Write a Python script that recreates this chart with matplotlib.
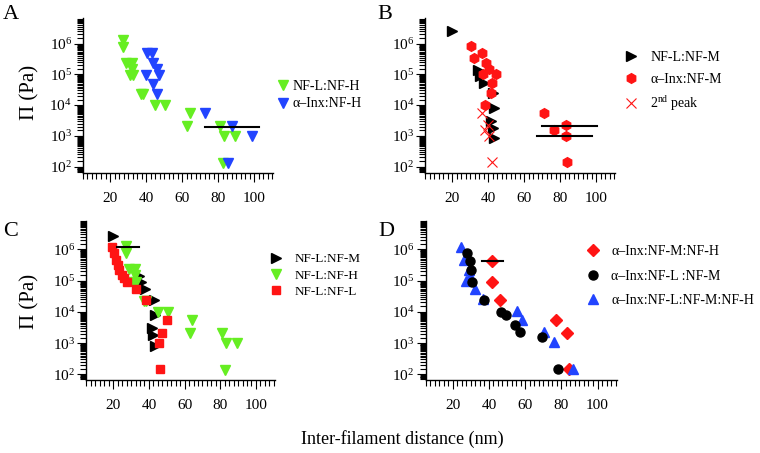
import numpy as np
import matplotlib
matplotlib.use('Agg')
import matplotlib.pyplot as plt
from matplotlib.ticker import LogLocator, MultipleLocator, NullFormatter

plt.rcParams['font.family'] = 'Liberation Serif'
plt.rcParams['mathtext.fontset'] = 'custom'
plt.rcParams['mathtext.rm'] = 'Liberation Serif'
plt.rcParams['mathtext.it'] = 'Liberation Serif:italic'

# NF-L:NF-H (green, panels A and C)
lh_x = [27.4, 27.0, 28.9, 32.0, 32.4, 31.1, 33.0, 37.0, 38.5, 45.0, 50.6, 64.4, 63.0, 81.1, 83.3, 89.4, 82.6]
lh_y = [1.3e6, 7.8e5, 2.3e5, 2.3e5, 1.5e5, 9.3e4, 9.3e4, 2.3e4, 2.3e4, 1.0e4, 1.0e4, 5.4e3, 2.1e3, 2.1e3, 1.0e3, 1.0e3, 135]

# a-Inx:NF-H (blue, panel A)
ih_x = [40.4, 43.1, 44.1, 45.9, 39.8, 47.2, 44.1, 45.9, 72.8, 88.0, 98.7, 85.4]
ih_y = [4.8e5, 4.8e5, 2.3e5, 1.5e5, 9.3e4, 9.3e4, 5.0e4, 2.3e4, 5.4e3, 2.1e3, 1.0e3, 135]
a_line_x = [72.8, 103.0]
a_line_y = [2.0e3, 2.0e3]

# NF-L:NF-M (black, panels B and C)
lm_x = [19.7, 34.5, 35.5, 37.6, 42.6, 43.3, 41.5, 42.5, 43.3]
lm_y = [2.6e6, 1.4e5, 9.0e4, 5.2e4, 2.4e4, 8.0e3, 3.1e3, 1.8e3, 830]

# a-Inx:NF-M (red hexagons, panel B)
im_x = [30.4, 36.6, 32.3, 38.8, 40.4, 36.9, 44.1, 41.9, 41.4, 38.2, 71.1, 83.2, 76.3, 83.2, 83.9]
im_y = [8.1e5, 4.8e5, 3.3e5, 2.3e5, 1.5e5, 1.0e5, 1.0e5, 5.3e4, 2.5e4, 1.0e4, 5.4e3, 2.2e3, 1.5e3, 1.0e3, 145]

# 2nd peak (red crosses, panel B)
pk_x = [36.3, 40.0, 38.1, 40.5, 41.8]
pk_y = [5.6e3, 2.2e3, 1.6e3, 1.0e3, 140]
b_line1_x = [70.0, 100.5]
b_line1_y = [2.1e3, 2.1e3]
b_line2_x = [66.9, 97.4]
b_line2_y = [1.0e3, 1.0e3]

# NF-L:NF-L (red squares, panel C)
ll_x = [19.1, 20.6, 21.3, 22.5, 23.4, 24.7, 26.2, 27.9, 32.7, 38.5, 49.9, 47.1, 45.8, 46.0]
ll_y = [1.2e6, 7.4e5, 4.5e5, 3.2e5, 2.2e5, 1.5e5, 1.2e5, 9.2e4, 5.4e4, 2.4e4, 5.4e3, 2.1e3, 1.03e3, 145]
c_line_x = [21.9, 34.6]
c_line_y = [1.2e6, 1.2e6]

# panel D
imh_x = [41.5, 41.7, 46.4, 77.1, 83.0, 84.1]
imh_y = [4.3e5, 9.0e4, 2.4e4, 5.4e3, 2.1e3, 145]
ilm_x = [27.9, 29.7, 29.9, 30.5, 37.1, 46.9, 49.4, 54.5, 57.0, 69.2, 78.4]
ilm_y = [7.7e5, 4.3e5, 2.2e5, 9.1e4, 2.4e4, 1.0e4, 7.9e3, 3.8e3, 2.2e3, 1.55e3, 145]
ilmh_x = [24.4, 26.1, 28.8, 29.6, 27.6, 32.3, 36.5, 55.4, 58.5, 70.7, 75.7, 86.7]
ilmh_y = [1.2e6, 4.4e5, 2.2e5, 1.4e5, 9.5e4, 5.4e4, 2.5e4, 1.05e4, 5.6e3, 2.2e3, 1.05e3, 150]
d_line_x = [36.0, 48.0]
d_line_y = [4.3e5, 4.3e5]

green = '#66ee22'
blue = '#2244ff'
red = '#ff1414'


def style(ax, ylim):
    ax.set_yscale('log')
    ax.set_xlim(5, 110.5)
    ax.set_ylim(*ylim)
    ax.spines[['top', 'right']].set_visible(False)
    for s in ['left', 'bottom']:
        ax.spines[s].set_linewidth(1.0)
    ax.xaxis.set_major_locator(MultipleLocator(20))
    ax.xaxis.set_minor_locator(MultipleLocator(2.5))
    ax.yaxis.set_major_locator(LogLocator(base=10, numticks=10))
    ax.yaxis.set_minor_locator(LogLocator(base=10, subs=np.arange(1.5, 10, 0.5), numticks=20))
    ax.yaxis.set_minor_formatter(NullFormatter())
    ax.tick_params(which='major', length=6.5, width=0.8, labelsize=11)
    ax.tick_params(which='minor', length=4, width=0.8)
    ax.tick_params(axis='x', pad=7.5)
    ax.tick_params(axis='y', pad=1.5)


fig = plt.figure(figsize=(7.6, 4.53), dpi=100)
axA = fig.add_axes([0.1092, 0.6188, 0.25, 0.3415])
axB = fig.add_axes([0.5596, 0.6188, 0.25, 0.3415])
axC = fig.add_axes([0.1138, 0.1611, 0.2476, 0.351])
axD = fig.add_axes([0.5599, 0.1611, 0.2513, 0.351])

style(axA, (63, 6.8e6))
style(axB, (63, 6.8e6))
style(axC, (66, 8e6))
style(axD, (66, 8e6))

leg_kw = dict(frameon=False, borderpad=0, borderaxespad=0, handlelength=1.0,
              loc='center left', fontsize=10)

# A
axA.plot(lh_x, lh_y, 'v', color=green, ms=7.5, label='NF-L:NF-H')
axA.plot(ih_x, ih_y, 'v', color=blue, ms=7.5, label='α–Inx:NF-H')
axA.plot(a_line_x, a_line_y, '-', color='black', lw=1.5)
axA.legend(bbox_to_anchor=(1.016, 0.502), handletextpad=0.2, labelspacing=0.35, **leg_kw)

# B
axB.plot(lm_x, lm_y, '>', color='black', ms=6.5, label='NF-L:NF-M')
axB.plot(im_x, im_y, 'h', color=red, ms=7, label='α–Inx:NF-M')
axB.plot(pk_x, pk_y, 'x', color=red, ms=7, mew=0.8, label=r'2$^{\rm nd}$ peak')
axB.plot(b_line1_x, b_line1_y, '-', color='black', lw=1.5)
axB.plot(b_line2_x, b_line2_y, '-', color='black', lw=1.5)
axB.legend(bbox_to_anchor=(1.044, 0.586), handletextpad=0.9, labelspacing=0.6, **leg_kw)

# C
axC.plot(lm_x, lm_y, '>', color='black', ms=6.5, label='NF-L:NF-M')
axC.plot(lh_x, lh_y, 'v', color=green, ms=7.5, label='NF-L:NF-H')
axC.plot(ll_x, ll_y, 's', color=red, ms=5.5, label='NF-L:NF-L')
axC.plot(c_line_x, c_line_y, '-', color='black', lw=1.5)
leg_kw_c = dict(leg_kw, fontsize=9.5)
axC.legend(bbox_to_anchor=(0.973, 0.657), handletextpad=0.9, labelspacing=0.3, **leg_kw_c)

# D
axD.plot(imh_x, imh_y, 'D', color=red, ms=6, label='α–Inx:NF-M:NF-H')
axD.plot(ilmh_x, ilmh_y, '^', color=blue, ms=7.5, label='α–Inx:NF-L:NF-M:NF-H')
axD.plot(ilm_x, ilm_y, 'o', color='black', ms=6.5, label='α–Inx:NF-L :NF-M')
axD.plot(d_line_x, d_line_y, '-', color='black', lw=1.5)
h, l = axD.get_legend_handles_labels()
axD.legend([h[0], h[2], h[1]], [l[0], l[2], l[1]], bbox_to_anchor=(0.842, 0.654),
           handletextpad=0.78, labelspacing=0.85, **leg_kw)

# labels
fig.text(30 / 760, 1 - 92 / 453, 'Π (Pa)', rotation=90, ha='center', va='center', fontsize=15)
fig.text(30 / 760, 1 - 301 / 453, 'Π (Pa)', rotation=90, ha='center', va='center', fontsize=15)
fig.text(402 / 760, 1 - 439 / 453, 'Inter-filament distance (nm)', ha='center', va='center', fontsize=13)

for x, y, s in [(3, 5, 'A'), (377, 5, 'B'), (3, 222, 'C'), (378, 222, 'D')]:
    fig.text(x / 760, 1 - y / 453, s, ha='left', va='top', fontsize=16)

fig.savefig('out.png', dpi=100)
